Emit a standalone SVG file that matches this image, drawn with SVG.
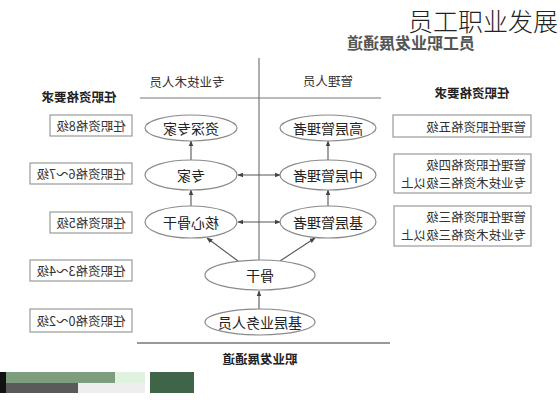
<svg xmlns="http://www.w3.org/2000/svg" width="560" height="400" viewBox="0 0 560 400">
<style>
text{font-family:"Noto Sans CJK SC","Noto Sans",sans-serif;fill:#222;}
.m{text-anchor:middle;dominant-baseline:central;}
.s{text-anchor:start;dominant-baseline:central;}
.node ellipse{fill:#fff;stroke:#8a8a8a;stroke-width:1.2;}
.box rect{fill:#fff;stroke:#9a9a9a;stroke-width:1.2;}
.en{font-size:14px;}
.bx{font-size:12.5px;fill:#333;}
.hd{font-size:12.5px;fill:#333;}
.rq{font-size:12.5px;font-weight:bold;fill:#222;}
.ln{stroke:#777;stroke-width:1.2;fill:none;}
.ar{stroke:#555;stroke-width:1.1;fill:none;}
</style>
<defs>
<marker id="ah" viewBox="0 0 10 10" refX="9" refY="5" markerWidth="6" markerHeight="6" orient="auto-start-reverse" markerUnits="userSpaceOnUse">
<path d="M0,1 L10,5 L0,9 z" fill="#444"/>
</marker>
</defs>
<rect width="560" height="400" fill="#fff"/>

<text x="558" y="20" style="font-size:25px;font-weight:300;fill:#222;text-anchor:end;dominant-baseline:central">员工职业发展</text>
<text class="m" transform="translate(411,42) scale(-1,1)" style="font-size:16px;font-weight:bold;fill:#555">员工职业发展通道</text>

<g id="frame">
<line class="ln" x1="259" y1="58" x2="259" y2="260"/>
<line class="ln" x1="140" y1="98" x2="381" y2="98"/>
<line x1="137" y1="343" x2="390" y2="343" stroke="#999" stroke-width="2"/>
</g>

<text class="m hd" transform="translate(187,81) scale(-1,1)">专业技术人员</text>
<text class="m hd" transform="translate(328,80) scale(-1,1)">管理人员</text>
<text class="m rq" transform="translate(79,96) scale(-1,1)">任职资格要求</text>
<text class="m rq" transform="translate(472,92) scale(-1,1)">任职资格要求</text>
<text class="m rq" transform="translate(260,358) scale(-1,1)">职业发展通道</text>

<g id="connectors">
<line class="ar" x1="191" y1="161" x2="191" y2="141" marker-end="url(#ah)"/>
<line class="ar" x1="191" y1="206" x2="191" y2="190" marker-end="url(#ah)"/>
<line class="ar" x1="328" y1="161" x2="328" y2="141" marker-end="url(#ah)"/>
<line class="ar" x1="328" y1="207" x2="328" y2="190" marker-end="url(#ah)"/>
<line class="ar" x1="238" y1="175" x2="280" y2="175" marker-start="url(#ah)" marker-end="url(#ah)"/>
<line class="ar" x1="238" y1="222" x2="280" y2="222" marker-start="url(#ah)" marker-end="url(#ah)"/>
<line class="ar" x1="238" y1="261" x2="207" y2="238" marker-end="url(#ah)"/>
<line class="ar" x1="280" y1="261" x2="315" y2="238" marker-end="url(#ah)"/>
<line class="ar" x1="259" y1="309" x2="259" y2="291" marker-end="url(#ah)"/>
</g>

<g id="n-zishen" class="node"><ellipse cx="191" cy="128" rx="46" ry="13"/><text class="m en" transform="translate(191,128) scale(-1,1)">资深专家</text></g>
<g id="n-zhuanjia" class="node"><ellipse cx="191" cy="175" rx="46" ry="15"/><text class="m en" transform="translate(191,175) scale(-1,1)">专家</text></g>
<g id="n-hexin" class="node"><ellipse cx="191" cy="222" rx="46" ry="16"/><text class="m en" transform="translate(191,222) scale(-1,1)">核心骨干</text></g>
<g id="n-gaoceng" class="node"><ellipse cx="328" cy="128" rx="48" ry="13"/><text class="m en" transform="translate(328,128) scale(-1,1)">高层管理者</text></g>
<g id="n-zhongceng" class="node"><ellipse cx="328" cy="175" rx="48" ry="15"/><text class="m en" transform="translate(328,175) scale(-1,1)">中层管理者</text></g>
<g id="n-jiceng" class="node"><ellipse cx="328" cy="222" rx="48" ry="16"/><text class="m en" transform="translate(328,222) scale(-1,1)">基层管理者</text></g>
<g id="n-gugan" class="node"><ellipse cx="260" cy="275" rx="55" ry="15"/><text class="m en" transform="translate(260,275) scale(-1,1)">骨干</text></g>
<g id="n-yewu" class="node"><ellipse cx="260" cy="322" rx="55" ry="13"/><text class="m en" transform="translate(260,322) scale(-1,1)">基层业务人员</text></g>

<g id="b-l8" class="box"><rect x="50" y="115" width="82" height="21"/><text class="m bx" transform="translate(91,125.5) scale(-1,1)">任职资格8级</text></g>
<g id="b-l67" class="box"><rect x="30" y="163" width="102" height="21"/><text class="m bx" transform="translate(81,173.5) scale(-1,1)">任职资格6～7级</text></g>
<g id="b-l5" class="box"><rect x="50" y="212" width="82" height="21"/><text class="m bx" transform="translate(91,222.5) scale(-1,1)">任职资格5级</text></g>
<g id="b-l34" class="box"><rect x="30" y="260" width="102" height="21"/><text class="m bx" transform="translate(81,270.5) scale(-1,1)">任职资格3～4级</text></g>
<g id="b-l02" class="box"><rect x="30" y="309" width="102" height="23"/><text class="m bx" transform="translate(81,320.5) scale(-1,1)">任职资格0～2级</text></g>

<g id="b-r5" class="box"><rect x="393" y="115" width="138" height="22"/><text class="m bx" transform="translate(476,126) scale(-1,1)">管理任职资格五级</text></g>
<g id="b-r4" class="box"><rect x="394" y="154" width="137" height="39"/><text class="s bx" transform="translate(526,164) scale(-1,1)">管理任职资格四级</text><text class="s bx" transform="translate(526,182) scale(-1,1)">专业技术资格三级以上</text></g>
<g id="b-r3" class="box"><rect x="394" y="206" width="137" height="40"/><text class="s bx" transform="translate(526,216.5) scale(-1,1)">管理任职资格三级</text><text class="s bx" transform="translate(526,234.5) scale(-1,1)">专业技术资格三级以上</text></g>

<g id="strip">
<rect x="0" y="372" width="6" height="21" fill="#111"/>
<rect x="6" y="372" width="109" height="11" fill="#7c9e7e"/>
<rect x="115" y="372" width="30" height="11" fill="#dff2df"/>
<rect x="6" y="383" width="72" height="10" fill="#5a5a5a"/>
<rect x="78" y="383" width="67" height="10" fill="#eeeeee"/>
<rect x="150" y="372" width="44" height="21" fill="#3f6447"/>
</g>
</svg>
